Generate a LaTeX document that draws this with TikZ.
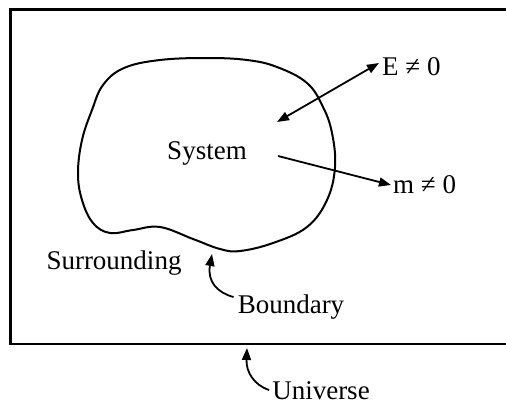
\documentclass[tikz,border=0pt]{standalone}
\usepackage{fontspec}
\setmainfont{Liberation Serif}
\usetikzlibrary{arrows.meta}
\tikzset{
  lbl/.style={inner sep=0pt, font=\fontsize{27}{30}\selectfont},
  conn/.style={line width=1.8pt, -{Triangle[length=12pt,width=9pt]}},
  dconn/.style={line width=1.8pt, {Triangle[length=12pt,width=9pt]}-{Triangle[length=12pt,width=9pt]}},
}
\begin{document}
\begin{tikzpicture}[x=1pt,y=-1pt]
\useasboundingbox (0,0) rectangle (506,405);
% universe frame (right side runs off the picture)
\draw[line width=2.2pt] (507,9.5) -- (10.5,9.5) -- (10.5,344) -- (507,344);
% system boundary
\draw[line width=2pt] plot[smooth cycle, tension=0.65] coordinates {
  (92,110) (103,85) (124,68) (160,60) (207,58) (247,60) (277,67) (307,83)
  (323,107) (332,133) (335,167) (327,200) (307,227) (273,243) (240,251)
  (220,249) (193,239) (160,227) (133,230) (110,233) (93,223) (82,200)
  (78,173) (82,140)};
% labels
\node[lbl] (sys) at (207,153) {System};
\node[lbl, anchor=west] (E) at (382,67) {E ≠ 0};
\node[lbl, anchor=west] (m) at (393,185) {m ≠ 0};
\node[lbl] (sur) at (114,263) {Surrounding};
\node[lbl] (bnd) at (291,307) {Boundary};
\node[lbl] (uni) at (321,391) {Universe};
% connector ends
\coordinate (ein) at (277,122);
\coordinate (min) at (278,156);
\coordinate (bpt) at (212,254);
\coordinate (upt) at (247,348);
% connectors
\draw[dconn] (ein) -- ([xshift=-3pt,yshift=4pt]E.west);
\draw[conn] (min) -- ([xshift=-2pt]m.west);
\draw[conn] ([xshift=-4pt,yshift=10pt]bnd.west) .. controls (218,293) and (207,282) .. (bpt);
\draw[conn] ([xshift=-3pt,yshift=1pt]uni.west) .. controls (254,385) and (246,372) .. (upt);
\end{tikzpicture}
\end{document}
